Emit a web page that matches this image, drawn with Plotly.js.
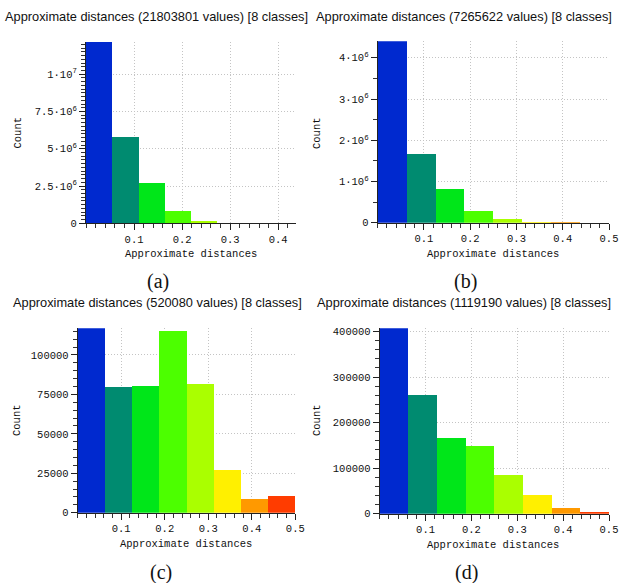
<!DOCTYPE html>
<html>
<head>
<meta charset="utf-8">
<script src="https://cdn.plot.ly/plotly-3.0.1.min.js"></script>
<style>html,body{margin:0;padding:0;background:#fff;}#chart{width:620px;height:583px;}</style>
</head>
<body>
<div id="chart"></div>
<script>
// ---- data ----
const classes = 8;
const classColors = ['#0029cf', '#008b70', '#00e619', '#4cff00', '#aaff00', '#fff000', '#ff9900', '#ff3c00'];
const titlesText = [
  'Approximate distances (21803801 values) [8 classes]',
  'Approximate distances (7265622 values) [8 classes]',
  'Approximate distances (520080 values) [8 classes]',
  'Approximate distances (1119190 values) [8 classes]'
];
const captions = ['(a)', '(b)', '(c)', '(d)'];
const maxDist = [0.437, 0.5, 0.5, 0.5];
const countsA = [12180000, 5800000, 2720000, 850000, 170000, 50000, 20000, 8000];
const countsB = [4400000, 1667000, 810000, 290000, 90000, 20000, 5000, 2000];
const countsC = [116900, 79900, 80500, 115400, 81400, 26900, 8500, 10400];
const countsD = [407000, 260900, 167000, 148800, 84400, 41100, 11900, 3700];
const yTickValsA = [0, 2500000, 5000000, 7500000, 10000000];
const yTickTextA = ['0', '2.5·10<sup>6</sup>', '5·10<sup>6</sup>', '7.5·10<sup>6</sup>', '1·10<sup>7</sup>'];
const yTickValsB = [0, 1000000, 2000000, 3000000, 4000000];
const yTickTextB = ['0', '1·10<sup>6</sup>', '2·10<sup>6</sup>', '3·10<sup>6</sup>', '4·10<sup>6</sup>'];
const yTickValsC = [0, 25000, 50000, 75000, 100000];
const yTickTextC = ['0', '25000', '50000', '75000', '100000'];
const yTickValsD = [0, 100000, 200000, 300000, 400000];
const yTickTextD = ['0', '100000', '200000', '300000', '400000'];
const yMinorStep = [250000, 500000, 5000, 20000];
const xTickVals = [0.1, 0.2, 0.3, 0.4, 0.5];
const xTickText = ['0.1', '0.2', '0.3', '0.4', '0.5'];
const xMinorStep = 0.02;
const xLabel = 'Approximate distances';
const yLabel = 'Count';

// ---- layout geometry (pixels) ----
const W = 620, H = 583;
const panels = [
  {x0: 86, x1: 296, y0: 41.7, y1: 223.3, counts: countsA, tv: yTickValsA, tt: yTickTextA},
  {x0: 377.7, x1: 609, y0: 41.3, y1: 222.7, counts: countsB, tv: yTickValsB, tt: yTickTextB},
  {x0: 77.7, x1: 295.3, y0: 328.3, y1: 512.7, counts: countsC, tv: yTickValsC, tt: yTickTextC},
  {x0: 379.7, x1: 609, y0: 328.3, y1: 513.7, counts: countsD, tv: yTickValsD, tt: yTickTextD}
];
const titlePos = [[156.5, 16], [463.5, 16], [157, 302], [464, 302]];
const xTitlePos = [[190.5, 254], [492.5, 254], [186, 544], [493, 545]];
const yTitlePos = [[17.5, 133], [317, 133], [17, 420], [317, 420]];
const capPos = [[158, 281], [465, 281], [161, 572], [466, 572]];

const px = v => v / W;
const py = v => 1 - v / H;
const tickFont = {family: 'Liberation Mono, DejaVu Sans Mono, monospace', size: 10.5, color: '#111'};
const gridDash = '1px,2px';
const gridColor = '#c4c4c4';
const axisColor = '#222';
const minorColor = '#333';

// tick positions along an axis at a fixed step (ticks only, not marks)
function stepTicks(step, max) {
  const out = [];
  const n = Math.floor(max / step + 1e-9);
  for (let j = 0; j <= n; j++) out.push(+(j * step).toPrecision(10));
  return out;
}

const traces = [];
const layout = {
  width: W, height: H,
  margin: {l: 0, r: 0, t: 0, b: 0},
  paper_bgcolor: '#fff', plot_bgcolor: '#fff',
  showlegend: false, bargap: 0, hovermode: false,
  annotations: []
};

panels.forEach((p, i) => {
  const k = i === 0 ? '' : String(i + 1);
  const w = maxDist[i] / classes;
  const centers = p.counts.map((_, j) => (j + 0.5) * w);
  const yMax = Math.max(...p.counts);
  traces.push({
    type: 'bar', x: centers, y: p.counts, width: w,
    marker: {color: classColors, line: {width: 0}},
    xaxis: 'x' + k, yaxis: 'y' + k
  });
  layout['xaxis' + k] = {
    domain: [px(p.x0), px(p.x1)], anchor: 'y' + k,
    range: [0, maxDist[i]],
    tickmode: 'array', tickvals: xTickVals, ticktext: xTickText,
    ticks: 'outside', ticklen: 6, tickwidth: 1, tickcolor: axisColor, tickfont: tickFont,
    minor: {tickmode: 'array', tickvals: stepTicks(xMinorStep, maxDist[i]), ticks: 'outside', ticklen: 4, tickwidth: 1, tickcolor: minorColor, showgrid: false},
    showline: true, linecolor: axisColor, linewidth: 1, mirror: false,
    showgrid: true, gridcolor: gridColor, griddash: gridDash, gridwidth: 1,
    zeroline: false, fixedrange: true
  };
  layout['yaxis' + k] = {
    domain: [py(p.y1), py(p.y0)], anchor: 'x' + k,
    range: [0, yMax],
    tickmode: 'array', tickvals: p.tv, ticktext: p.tt,
    ticks: 'outside', ticklen: 6, tickwidth: 1, tickcolor: axisColor, tickfont: tickFont,
    minor: {tickmode: 'array', tickvals: stepTicks(yMinorStep[i], yMax), ticks: 'outside', ticklen: 4, tickwidth: 1, tickcolor: minorColor, showgrid: false},
    showline: true, linecolor: axisColor, linewidth: 1, mirror: false,
    showgrid: true, gridcolor: gridColor, griddash: gridDash, gridwidth: 1,
    zeroline: false, fixedrange: true
  };
  layout.annotations.push({
    xref: 'paper', yref: 'paper', x: px(titlePos[i][0]), y: py(titlePos[i][1]),
    xanchor: 'center', yanchor: 'middle', showarrow: false, text: titlesText[i],
    font: {family: 'Liberation Sans, Arial, sans-serif', size: 12.8, color: '#111'}
  });
  layout.annotations.push({
    xref: 'paper', yref: 'paper', x: px(xTitlePos[i][0]), y: py(xTitlePos[i][1]),
    xanchor: 'center', yanchor: 'middle', showarrow: false, text: xLabel,
    font: tickFont
  });
  layout.annotations.push({
    xref: 'paper', yref: 'paper', x: px(yTitlePos[i][0]), y: py(yTitlePos[i][1]),
    xanchor: 'center', yanchor: 'middle', showarrow: false, text: yLabel, textangle: -90,
    font: tickFont
  });
  layout.annotations.push({
    xref: 'paper', yref: 'paper', x: px(capPos[i][0]), y: py(capPos[i][1]),
    xanchor: 'center', yanchor: 'middle', showarrow: false, text: captions[i],
    font: {family: 'Liberation Serif, Times New Roman, serif', size: 20, color: '#111'}
  });
});

Plotly.newPlot('chart', traces, layout, {staticPlot: true, displayModeBar: false});
</script>
</body>
</html>
